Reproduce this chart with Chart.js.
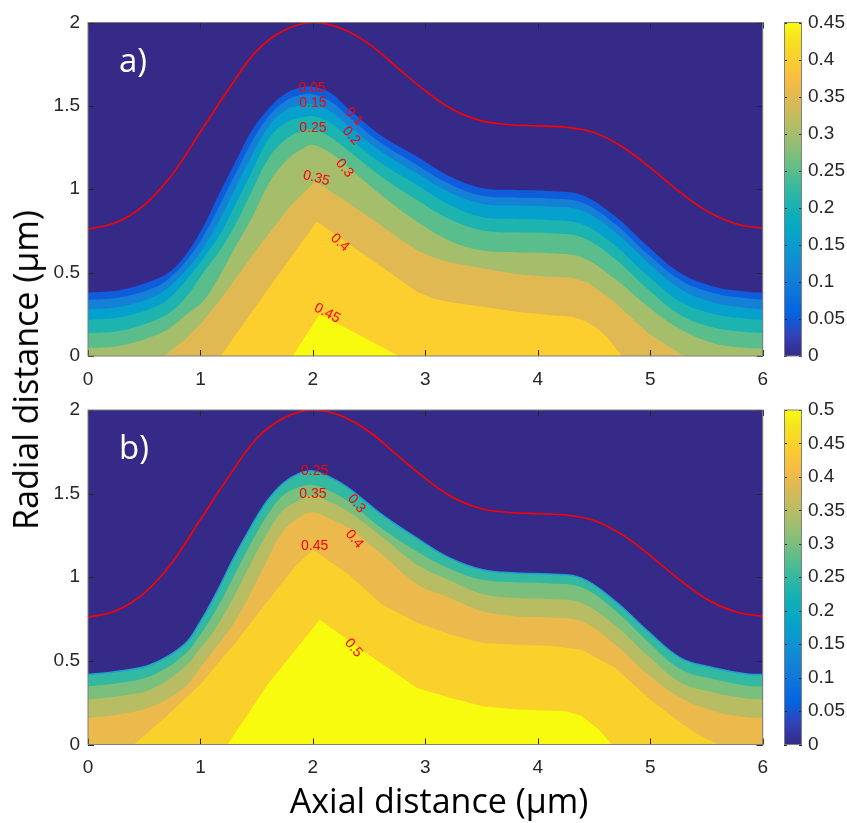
<!DOCTYPE html>
<html>
<head>
<meta charset="utf-8">
<title>Contour plots</title>
<script src="https://cdn.jsdelivr.net/npm/chart.js@4.4.1/dist/chart.umd.min.js"></script>
<style>
  html, body { margin:0; padding:0; background:#ffffff; }
  body { position:relative; width:847px; height:823px; overflow:hidden; }
  canvas { position:absolute; display:block; }
  .title { position:absolute; font-family:"Open Sans", Lato, sans-serif; font-size:34px; line-height:40px; color:#000; white-space:nowrap; }
  #xtitle { left:439px; top:780px; transform:translateX(-50%); }
  #ytitle { left:25px; top:370px; transform:translate(-50%,-50%) rotate(-90deg); }
</style>
</head>
<body>
<canvas id="panelA" width="780" height="390" style="left:0;top:0"></canvas>
<canvas id="barA" width="63" height="390" style="left:784px;top:0"></canvas>
<canvas id="panelB" width="780" height="390" style="left:0;top:390px"></canvas>
<canvas id="barB" width="63" height="390" style="left:784px;top:390px"></canvas>
<div id="ytitle" class="title">Radial distance (µm)</div>
<div id="xtitle" class="title">Axial distance (µm)</div>
<script>
// ---------------- data ----------------
const xTicks = [0, 1, 2, 3, 4, 5, 6];
const xTickLabels = ['0', '1', '2', '3', '4', '5', '6'];
const yTicks = [0, 0.5, 1, 1.5, 2];
const yTickLabels = ['0', '0.5', '1', '1.5', '2'];
const cbTicksA = [0, 0.05, 0.1, 0.15, 0.2, 0.25, 0.3, 0.35, 0.4, 0.45];
const cbLabelsA = ['0', '0.05', '0.1', '0.15', '0.2', '0.25', '0.3', '0.35', '0.4', '0.45'];
const cbTicksB = [0, 0.05, 0.1, 0.15, 0.2, 0.25, 0.3, 0.35, 0.4, 0.45, 0.5];
const cbLabelsB = ['0', '0.05', '0.1', '0.15', '0.2', '0.25', '0.3', '0.35', '0.4', '0.45', '0.5'];
const cbMaxA = 0.45;
const cbMaxB = 0.5;

// red boundary (same in both panels): [axial, radial]
const wall = [[0,0.76],[0.25,0.80],[0.5,0.905],[0.75,1.09],[1.0,1.345],[1.25,1.6],[1.5,1.83],[1.75,1.955],[2.0,2.0],[2.25,1.965],[2.5,1.87],[2.75,1.73],[3.0,1.59],[3.25,1.475],[3.5,1.41],[3.75,1.387],[4.0,1.38],[4.25,1.372],[4.5,1.34],[4.75,1.255],[5.0,1.13],[5.25,0.99],[5.5,0.87],[5.75,0.795],[6.0,0.765]];

// panel a contour levels: [axial, radial]
const a05 = [[0,0.38],[0.29,0.396],[0.586,0.456],[0.73,0.506],[0.88,0.616],[1.025,0.776],[1.17,0.976],[1.32,1.176],[1.46,1.356],[1.61,1.486],[1.76,1.576],[1.9,1.612],[2.0,1.615],[2.15,1.58],[2.32,1.48],[2.62,1.316],[2.925,1.196],[3.22,1.076],[3.51,1.006],[3.81,0.996],[4.1,0.99],[4.39,0.966],[4.69,0.836],[4.98,0.656],[5.27,0.496],[5.57,0.416],[5.86,0.386],[6.0,0.38]];
const a10 = [[0,0.336],[0.29,0.352],[0.586,0.41],[0.73,0.47],[0.88,0.575],[1.025,0.718],[1.17,0.903],[1.32,1.105],[1.46,1.288],[1.61,1.44],[1.76,1.53],[1.9,1.566],[2.0,1.57],[2.15,1.53],[2.3,1.445],[2.6,1.28],[2.925,1.146],[3.22,1.03],[3.51,0.961],[3.81,0.951],[4.1,0.945],[4.39,0.921],[4.69,0.79],[4.98,0.61],[5.27,0.455],[5.57,0.376],[5.86,0.346],[6.0,0.338]];
const a15 = [[0,0.28],[0.29,0.296],[0.586,0.356],[0.73,0.42],[0.88,0.52],[1.025,0.647],[1.17,0.815],[1.32,1.02],[1.46,1.206],[1.61,1.38],[1.76,1.475],[1.9,1.505],[2.0,1.51],[2.15,1.47],[2.3,1.39],[2.6,1.23],[2.925,1.096],[3.22,0.98],[3.51,0.912],[3.81,0.902],[4.1,0.896],[4.39,0.872],[4.69,0.74],[4.98,0.56],[5.27,0.40],[5.57,0.32],[5.86,0.288],[6.0,0.28]];
const a20 = [[0,0.216],[0.29,0.232],[0.586,0.292],[0.73,0.35],[0.88,0.46],[1.025,0.585],[1.17,0.726],[1.32,0.921],[1.46,1.11],[1.61,1.305],[1.76,1.40],[1.9,1.43],[2.0,1.44],[2.15,1.40],[2.3,1.32],[2.6,1.16],[2.925,1.026],[3.22,0.905],[3.51,0.832],[3.81,0.822],[4.1,0.816],[4.39,0.792],[4.69,0.66],[4.98,0.48],[5.27,0.325],[5.57,0.25],[5.86,0.224],[6.0,0.218]];
const a25 = [[0,0.136],[0.29,0.152],[0.586,0.212],[0.73,0.262],[0.88,0.36],[1.025,0.50],[1.17,0.629],[1.32,0.80],[1.46,0.992],[1.61,1.19],[1.76,1.30],[1.9,1.35],[2.0,1.36],[2.15,1.315],[2.3,1.24],[2.6,1.08],[2.925,0.936],[3.22,0.82],[3.51,0.752],[3.81,0.742],[4.1,0.736],[4.39,0.712],[4.69,0.58],[4.98,0.40],[5.27,0.245],[5.57,0.17],[5.86,0.144],[6.0,0.138]];
const a30 = [[0,0.046],[0.29,0.062],[0.586,0.12],[0.73,0.17],[0.88,0.25],[1.025,0.33],[1.17,0.48],[1.32,0.666],[1.46,0.831],[1.61,1.036],[1.76,1.17],[1.9,1.24],[2.0,1.266],[2.15,1.22],[2.3,1.14],[2.6,0.97],[2.925,0.806],[3.22,0.69],[3.51,0.632],[3.81,0.622],[4.1,0.616],[4.39,0.592],[4.69,0.46],[4.98,0.296],[5.27,0.16],[5.57,0.075],[5.86,0.048],[6.0,0.044]];
const a35 = [[0.674,0],[0.85,0.09],[1.025,0.21],[1.2,0.36],[1.52,0.656],[1.8,0.9],[2.02,1.046],[2.3,0.925],[2.6,0.785],[2.8,0.69],[2.925,0.636],[3.07,0.59],[3.22,0.56],[3.51,0.526],[3.81,0.49],[4.1,0.476],[4.3,0.47],[4.45,0.44],[4.69,0.32],[4.98,0.136],[5.30,0]];
const a40 = [[1.18,0],[1.6,0.4],[2.035,0.806],[2.5,0.587],[2.925,0.386],[3.07,0.345],[3.2,0.325],[3.51,0.296],[3.81,0.265],[4.1,0.246],[4.3,0.236],[4.42,0.21],[4.52,0.17],[4.62,0.11],[4.745,0]];
const a45 = [[1.82,0],[2.06,0.25],[2.4,0.13],[2.76,0]];

// panel b contour levels: [axial, radial]
const b25 = [[0,0.418],[0.27,0.438],[0.56,0.478],[0.855,0.597],[1.0,0.736],[1.148,0.915],[1.295,1.114],[1.442,1.294],[1.589,1.453],[1.735,1.562],[1.882,1.622],[2.0,1.636],[2.15,1.60],[2.32,1.532],[2.617,1.373],[2.925,1.234],[3.22,1.114],[3.51,1.045],[3.81,1.025],[4.1,1.019],[4.39,0.995],[4.69,0.856],[4.98,0.677],[5.27,0.517],[5.57,0.458],[5.86,0.422],[6.0,0.418]];
const b30 = [[0,0.348],[0.27,0.368],[0.56,0.41],[0.855,0.535],[1.0,0.657],[1.148,0.816],[1.295,1.003],[1.442,1.194],[1.589,1.364],[1.735,1.49],[1.882,1.54],[2.0,1.552],[2.15,1.515],[2.32,1.45],[2.617,1.29],[2.925,1.154],[3.22,1.05],[3.51,0.985],[3.81,0.97],[4.1,0.963],[4.39,0.94],[4.69,0.80],[4.98,0.615],[5.27,0.45],[5.57,0.39],[5.86,0.352],[6.0,0.348]];
const b35 = [[0,0.269],[0.27,0.289],[0.56,0.33],[0.855,0.46],[1.0,0.575],[1.148,0.709],[1.295,0.88],[1.442,1.075],[1.589,1.258],[1.735,1.40],[1.882,1.46],[2.0,1.488],[2.15,1.45],[2.32,1.39],[2.617,1.24],[2.925,1.075],[3.22,0.98],[3.51,0.90],[3.81,0.876],[4.1,0.87],[4.39,0.846],[4.69,0.71],[4.98,0.53],[5.27,0.37],[5.57,0.31],[5.86,0.275],[6.0,0.269]];
const b40 = [[0,0.159],[0.27,0.179],[0.56,0.225],[0.855,0.34],[1.0,0.46],[1.148,0.59],[1.295,0.724],[1.442,0.898],[1.589,1.095],[1.735,1.276],[1.882,1.36],[2.0,1.389],[2.15,1.35],[2.32,1.294],[2.617,1.134],[2.925,0.96],[3.22,0.876],[3.51,0.796],[3.81,0.766],[4.1,0.76],[4.39,0.736],[4.69,0.597],[4.98,0.418],[5.27,0.279],[5.57,0.199],[5.86,0.163],[6.0,0.159]];
const b45 = [[0.41,0],[0.7,0.17],[1.0,0.36],[1.3,0.6],[1.6,0.86],[1.85,1.07],[2.0,1.164],[2.32,1.015],[2.617,0.836],[2.925,0.73],[3.22,0.657],[3.51,0.607],[3.81,0.597],[4.1,0.59],[4.39,0.567],[4.69,0.458],[4.98,0.279],[5.27,0.129],[5.45,0.05],[5.61,0]];
const b50 = [[1.24,0],[1.6,0.36],[2.06,0.746],[2.5,0.535],[2.925,0.338],[3.22,0.279],[3.51,0.229],[3.81,0.209],[4.25,0.199],[4.39,0.17],[4.54,0.09],[4.66,0]];

// ---------------- styles ----------------
const NAVY = '#352a87';
const TICK = '#262626';
const FRAME = '#7f7f7f';
const TICKFONT = { family: '"Liberation Sans", Arial, sans-serif', size: 19 };
const SMOOTH = 0.38;
const parula = [[0,'#352a87'],[0.0635,'#3243ba'],[0.127,'#0363e1'],[0.19,'#0d75dc'],[0.254,'#1485d4'],[0.317,'#0998d1'],[0.381,'#06a7c6'],[0.444,'#15b1b4'],[0.508,'#38b99e'],[0.571,'#65be86'],[0.635,'#92bf73'],[0.698,'#b7bd64'],[0.762,'#d9ba56'],[0.825,'#f8bb44'],[0.889,'#fcce2e'],[0.952,'#f5e41d'],[1,'#f9fb0e']];

// contour label annotations: text, anchor (axial, radial), rotation in degrees
const contourLabelsA = [['0.05',1.994,1.608,0],['0.15',2.0,1.516,0],['0.25',2.0,1.366,0],['0.35',2.03,1.066,14],['0.1',2.367,1.436,46],['0.2',2.34,1.32,48],['0.3',2.28,1.126,50],['0.4',2.24,0.68,42],['0.45',2.126,0.256,28]];
const contourLabelsB = [['0.25',2.015,1.632,0],['0.35',2.0,1.499,0],['0.45',2.015,1.184,0],['0.3',2.388,1.439,50],['0.4',2.367,1.228,50],['0.5',2.36,0.577,50]];

function toXY(arr) { return arr.map(p => ({ x: p[0], y: p[1] })); }
function band(arr, color, smooth, edge) {
  return {
    data: toXY(arr), backgroundColor: color, fill: 'origin',
    borderWidth: edge ? 1.5 : 0, borderColor: edge || 'rgba(0,0,0,0)',
    pointRadius: 0, tension: smooth ? SMOOTH : 0
  };
}
function wallSet() {
  return { data: toXY(wall), borderColor: '#ff0000', borderWidth: 1.6, fill: false, pointRadius: 0, tension: SMOOTH };
}

function panelPlugin(letter, labels) {
  return {
    id: 'panel' + letter,
    beforeDatasetsDraw(chart) {
      const { ctx, chartArea: a } = chart;
      ctx.save();
      ctx.fillStyle = NAVY;
      ctx.fillRect(a.left, a.top, a.right - a.left, a.bottom - a.top);
      ctx.restore();
    },
    afterDatasetsDraw(chart) {
      const { ctx, chartArea: a, scales } = chart;
      ctx.save();
      ctx.beginPath();
      ctx.rect(a.left, a.top, a.right - a.left, a.bottom - a.top);
      ctx.clip();
      ctx.fillStyle = '#ff0000';
      ctx.font = '14px "Liberation Sans", Arial, sans-serif';
      ctx.textAlign = 'center';
      ctx.textBaseline = 'middle';
      for (const [t, vx, vy, ang] of labels) {
        ctx.save();
        ctx.translate(scales.x.getPixelForValue(vx), scales.y.getPixelForValue(vy));
        ctx.rotate(ang * Math.PI / 180);
        ctx.fillText(t, 0, 0);
        ctx.restore();
      }
      ctx.fillStyle = '#ffffff';
      ctx.font = '33px "Open Sans", Lato, sans-serif';
      ctx.textAlign = 'left';
      ctx.textBaseline = 'alphabetic';
      ctx.fillText(letter + ')', a.left + 31, a.top + 49);
      ctx.restore();
    },
    afterDraw(chart) {
      const { ctx, chartArea: a, scales } = chart;
      ctx.save();
      ctx.lineWidth = 1;
      ctx.strokeStyle = TICK;
      ctx.beginPath();
      for (const v of xTicks) {
        const px = Math.round(scales.x.getPixelForValue(v)) + 0.5;
        ctx.moveTo(px, a.bottom); ctx.lineTo(px, a.bottom - 6);
        ctx.moveTo(px, a.top); ctx.lineTo(px, a.top + 6);
      }
      for (const v of yTicks) {
        const py = Math.round(scales.y.getPixelForValue(v)) + 0.5;
        ctx.moveTo(a.left, py); ctx.lineTo(a.left + 6, py);
        ctx.moveTo(a.right, py); ctx.lineTo(a.right - 6, py);
      }
      ctx.stroke();
      ctx.strokeStyle = FRAME;
      ctx.strokeRect(a.left, a.top, a.right - a.left, a.bottom - a.top);
      ctx.restore();
    }
  };
}

function makePanel(id, sets, labels, letter, padTop, xHeight) {
  return new Chart(document.getElementById(id), {
    type: 'line',
    data: { datasets: sets },
    options: {
      responsive: false, animation: false, events: [], devicePixelRatio: 1,
      layout: { padding: { top: padTop, right: 11, left: 0, bottom: 0 } },
      plugins: { legend: { display: false }, tooltip: { enabled: false }, filler: { propagate: false } },
      scales: {
        x: {
          type: 'linear', min: 0, max: 6,
          grid: { display: false, drawTicks: false }, border: { display: false },
          afterBuildTicks: s => { s.ticks = xTicks.map(v => ({ value: v })); },
          afterFit: s => { s.height = xHeight; },
          ticks: { autoSkip: false, maxRotation: 0, padding: 12, color: TICK, font: TICKFONT, callback: (v, i) => xTickLabels[i] }
        },
        y: {
          type: 'linear', min: 0, max: 2,
          grid: { display: false, drawTicks: false }, border: { display: false },
          afterBuildTicks: s => { s.ticks = yTicks.map(v => ({ value: v })); },
          afterFit: s => { s.width = 88; },
          ticks: { autoSkip: false, padding: 8, color: TICK, font: TICKFONT, callback: (v, i) => yTickLabels[i] }
        }
      }
    },
    plugins: [panelPlugin(letter, labels)]
  });
}

function parulaGradient(chart) {
  const a = chart.chartArea;
  if (!a) return NAVY;
  const g = chart.ctx.createLinearGradient(0, a.bottom, 0, a.top);
  parula.forEach(([t, c]) => g.addColorStop(t, c));
  return g;
}

function barFrame(ticks) {
  return {
    id: 'barFrame',
    afterDraw(chart) {
      const { ctx, chartArea: a, scales } = chart;
      ctx.save();
      ctx.lineWidth = 1;
      ctx.strokeStyle = TICK;
      ctx.beginPath();
      for (const v of ticks) {
        const py = Math.round(scales.y.getPixelForValue(v)) + 0.5;
        ctx.moveTo(a.left, py); ctx.lineTo(a.left + 3, py);
        ctx.moveTo(a.right, py); ctx.lineTo(a.right - 3, py);
      }
      ctx.stroke();
      ctx.strokeStyle = FRAME;
      ctx.strokeRect(a.left + 0.5, a.top, a.right - a.left - 1, a.bottom - a.top);
      ctx.restore();
    }
  };
}

function makeBar(id, max, ticks, labels, padTop, padBottom) {
  return new Chart(document.getElementById(id), {
    type: 'bar',
    data: { labels: ['c'], datasets: [{ data: [max], backgroundColor: c => parulaGradient(c.chart), borderWidth: 0, barPercentage: 1, categoryPercentage: 1, inflateAmount: 0 }] },
    options: {
      responsive: false, animation: false, events: [], devicePixelRatio: 1,
      layout: { padding: { top: padTop, bottom: padBottom, left: 0, right: 0 } },
      plugins: { legend: { display: false }, tooltip: { enabled: false } },
      scales: {
        x: { display: false },
        y: {
          position: 'right', min: 0, max: max,
          grid: { display: false, drawTicks: false }, border: { display: false },
          afterBuildTicks: s => { s.ticks = ticks.map(v => ({ value: v })); },
          afterFit: s => { s.width = 45; },
          ticks: { autoSkip: false, padding: 6, color: TICK, font: TICKFONT, callback: (v, i) => labels[i] }
        }
      }
    },
    plugins: [barFrame(ticks)]
  });
}

// panel a: first dataset is drawn on top
makePanel('panelA', [
  wallSet(),
  band(a45, '#f9fb0e', false),
  band(a40, '#fcce2e', false),
  band(a35, '#e1b952', false),
  band(a30, '#a5be6b', true),
  band(a25, '#59bd8c', true),
  band(a20, '#1db3af', true),
  band(a15, '#06a0cd', true),
  band(a10, '#1481d6', true),
  band(a05, '#0f5cdd', true)
], contourLabelsA, 'a', 22.5, 34);

makePanel('panelB', [
  wallSet(),
  band(b50, '#f9fb0e', false),
  band(b45, '#fad12b', false),
  band(b40, '#ecb94c', true),
  band(b35, '#b8bd63', true),
  band(b30, '#7abf7c', true),
  band(b25, '#33b8a1', true, '#1c9fd6')
], contourLabelsB, 'b', 20, 35.5);

makeBar('barA', cbMaxA, cbTicksA, cbLabelsA, 22.5, 34);
makeBar('barB', cbMaxB, cbTicksB, cbLabelsB, 20, 35.5);
</script>
</body>
</html>
